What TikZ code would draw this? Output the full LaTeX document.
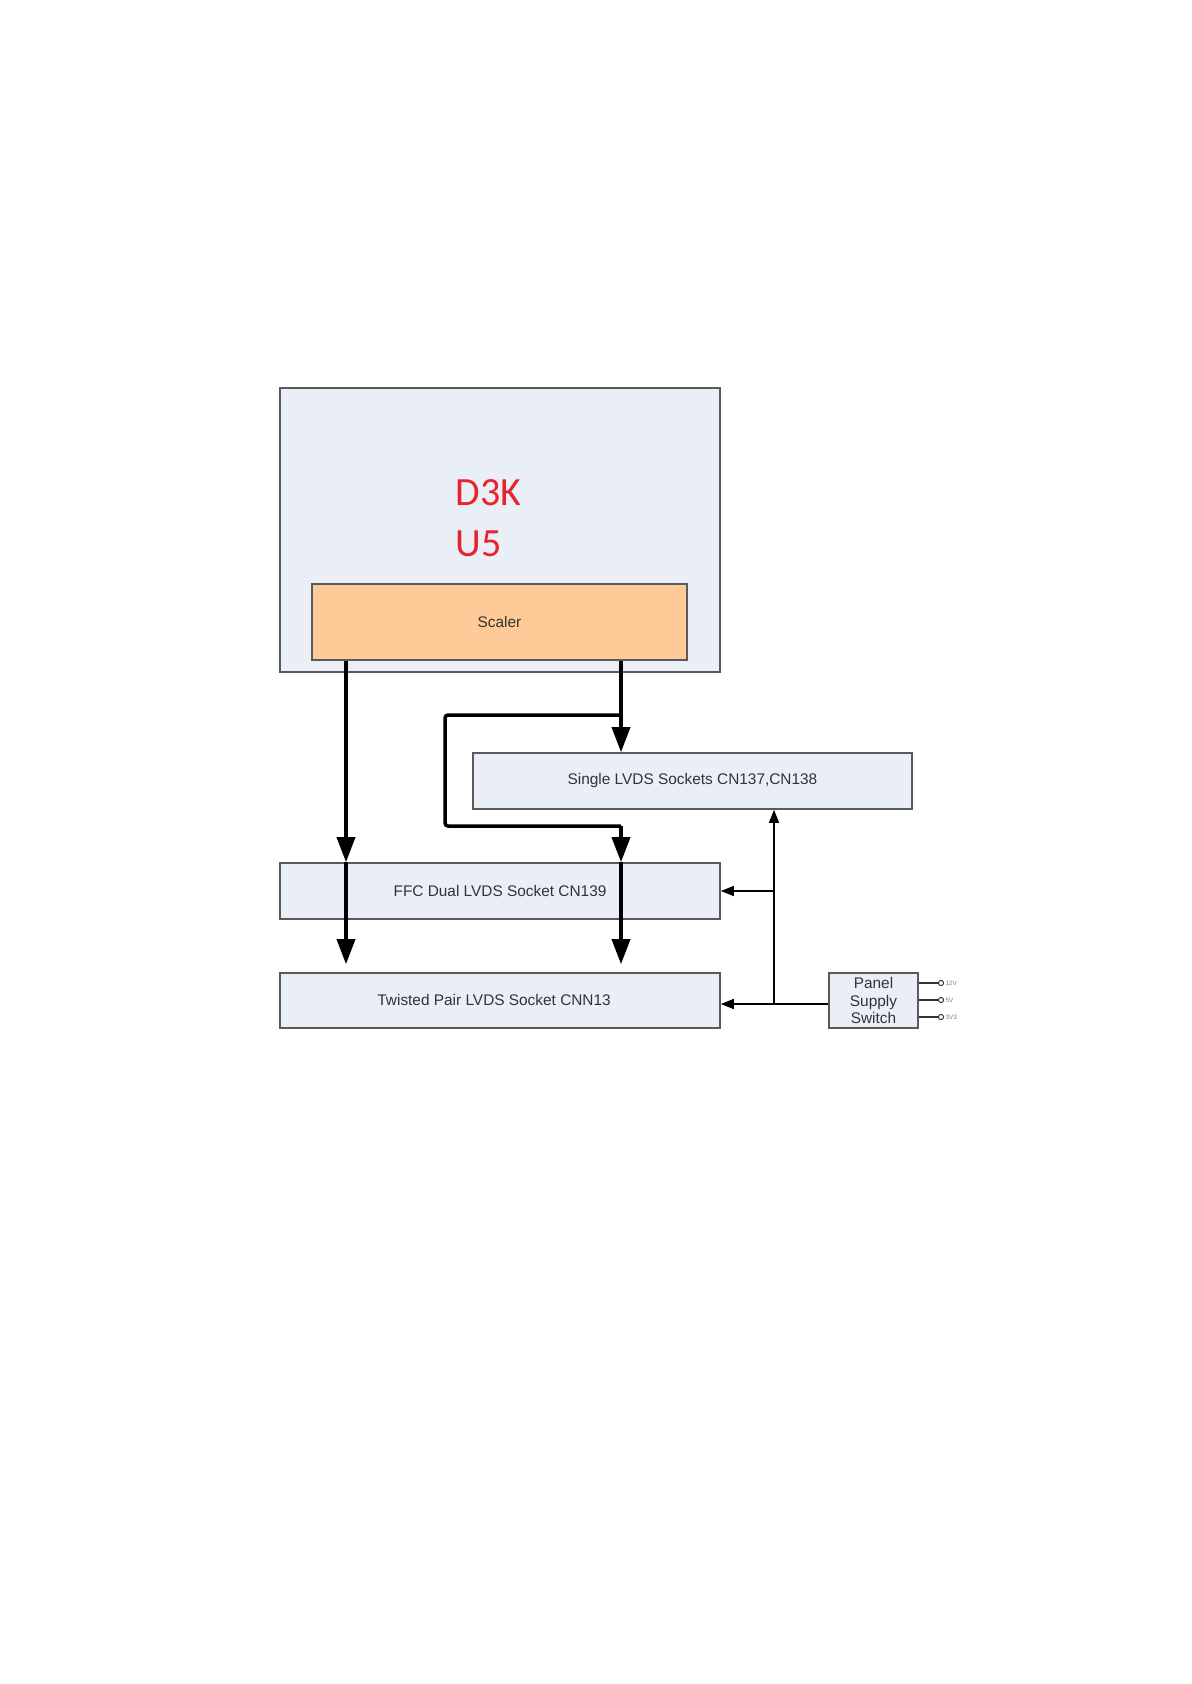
\documentclass[tikz,border=0pt]{standalone}
\usepackage{fontspec}
\setmainfont{Liberation Sans}
\newfontfamily\chipfont{Carlito}
\usetikzlibrary{arrows.meta, positioning, calc}

\definecolor{boxfill}{HTML}{E9EEF7}
\definecolor{boxline}{HTML}{5A5A5A}
\definecolor{scalerfill}{HTML}{FECB98}
\definecolor{chipred}{HTML}{E8232B}
\definecolor{textgray}{HTML}{333333}

\tikzset{
  block/.style={draw=boxline, line width=0.8pt, fill=boxfill, text=textgray,
    font=\fontsize{7.7}{8.6}\selectfont, inner sep=0pt, align=center},
  chiplabel/.style={font=\chipfont\fontsize{20}{24}\selectfont, text=chipred,
    anchor=base west, inner sep=0pt},
  bus/.style={line width=1.75pt, -{Triangle[length=12.5pt, width=9pt]}},
  feed/.style={line width=0.7pt, -{Triangle[length=6.5pt, width=5pt]}},
  pin/.style={draw=textgray, line width=0.5pt, fill=white, circle, inner sep=0pt, minimum size=2.6pt},
  pinlabel/.style={font=\fontsize{3.2}{4}\selectfont, text=gray, anchor=west, inner sep=0.5pt},
}

\begin{document}
\begin{tikzpicture}[x=0.5pt, y=-0.5pt]
  \useasboundingbox (0,0) rectangle (1192,1684);

  % main board
  \node[block, minimum width=220pt, minimum height=142pt] (board) at (500,530) {};
  \node[chiplabel] (chip) at (455,505) {D3K};
  \node[chiplabel] (chipref) at (455,556) {U5};
  \node[block, fill=scalerfill, minimum width=187.5pt, minimum height=38pt] (scaler) at (499.5,622) {Scaler};

  % sockets
  \node[block, minimum width=219.5pt, minimum height=28pt] (single) at (692.5,781) {Single LVDS Sockets CN137,CN138};
  \node[block, minimum width=220pt, minimum height=28pt] (ffc) at (500,891) {FFC Dual LVDS Socket CN139};
  \node[block, minimum width=220pt, minimum height=27.5pt] (twisted) at (500,1000.5) {};
  \node[text=textgray, font=\fontsize{7.7}{8.6}\selectfont, anchor=west, inner sep=0pt] (twistedtext) at (377,1000) {Twisted Pair LVDS Socket CNN13};
  \node[block, minimum width=44.5pt, minimum height=27.5pt] (panel) at (873.5,1000.5) {Panel\\Supply\\Switch};

  % bus columns
  \coordinate (busl) at (346,0);
  \coordinate (busr) at (621,0);
  \coordinate (split) at (621,715);
  \coordinate (loopa) at (445,715);
  \coordinate (loopb) at (445,826);
  \coordinate (loopc) at (621,826);
  \coordinate (feedx) at (774,0);
  \coordinate (feedy) at (0,1004);

  % LVDS buses
  \draw[bus] (scaler.south -| busl) -- (ffc.north -| busl);
  \draw[bus, shorten >=4pt] (ffc.north -| busl) -- (twisted.north -| busl);
  \draw[bus] (scaler.south -| busr) -- (single.north -| busr);
  \draw[line width=1.75pt, rounded corners=1.5pt] (split) -- (loopa) -- (loopb) -- (loopc);
  \draw[bus] (loopc) -- (ffc.north -| busr);
  \draw[bus, shorten >=4pt] (ffc.north -| busr) -- (twisted.north -| busr);

  % panel supply
  \draw[feed] (panel.west |- feedy) -- (twisted.east |- feedy);
  \draw[feed] (feedx |- feedy) -- (single.south -| feedx);
  \draw[feed] (ffc.east -| feedx) -- (ffc.east);

  % supply outputs
  \node[pin] (p12) at (941,983) {};
  \node[pin] (p5) at (941,1000) {};
  \node[pin] (p33) at (941,1017) {};
  \draw[line width=0.6pt, draw=textgray] (panel.east |- p12) -- (p12);
  \draw[line width=0.6pt, draw=textgray] (panel.east |- p5) -- (p5);
  \draw[line width=0.6pt, draw=textgray] (panel.east |- p33) -- (p33);
  \node[pinlabel] at (p12.east) {12V};
  \node[pinlabel] at (p5.east) {5V};
  \node[pinlabel] at (p33.east) {3V3};
\end{tikzpicture}
\end{document}
